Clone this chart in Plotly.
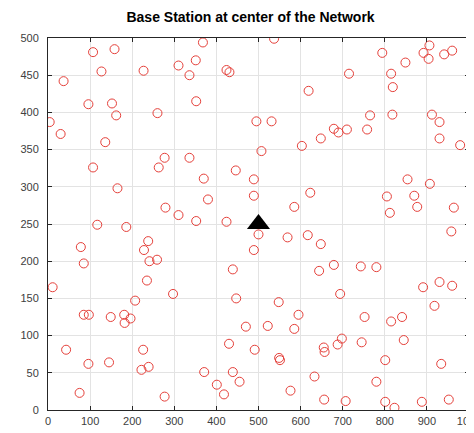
import plotly.graph_objects as go

# Sensor node positions
node_x = [107, 158, 368, 127, 227, 310, 336, 351, 424, 431,
          37, 96, 152, 162, 260, 352, 4, 30, 136, 277,
          263, 336, 446, 107, 370, 165, 380, 279, 310, 352,
          424, 117, 186, 537, 794, 849, 892, 906, 904, 941,
          960, 715, 815, 819, 619, 495, 531, 765, 818, 912,
          930, 679, 690, 710, 758, 648, 930, 603, 979, 507,
          489, 489, 623, 585, 854, 907, 805, 870, 877, 812,
          964, 958, 78, 85, 238, 228, 241, 259, 235, 439,
          11, 297, 207, 447, 85, 97, 149, 181, 196, 182,
          470, 43, 430, 226, 96, 145, 222, 239, 371, 439,
          455, 401, 75, 277, 418, 500, 489, 569, 617, 648,
          644, 679, 743, 780, 694, 548, 595, 585, 522, 752,
          815, 841, 891, 930, 960, 918, 698, 688, 745, 845,
          655, 657, 491, 549, 551, 801, 934, 633, 780, 576,
          656, 707, 801, 823, 888, 952]
node_y = [481, 485, 494, 455, 456, 463, 450, 470, 457, 454,
          442, 411, 412, 396, 399, 415, 387, 371, 360, 339,
          326, 339, 322, 326, 311, 298, 283, 272, 262, 254,
          253, 249, 246, 499, 480, 467, 480, 490, 472, 478,
          483, 452, 452, 434, 429, 388, 388, 396, 397, 397,
          387, 378, 373, 377, 377, 365, 365, 355, 356, 348,
          310, 288, 292, 273, 310, 304, 287, 288, 273, 265,
          272, 240, 219, 197, 227, 215, 200, 202, 174, 189,
          165, 156, 147, 150, 128, 128, 125, 128, 123, 117,
          112, 81, 89, 81, 62, 64, 54, 58, 51, 51,
          38, 34, 23, 18, 21, 236, 215, 232, 235, 223,
          187, 195, 193, 192, 156, 145, 128, 109, 113, 125,
          119, 125, 165, 172, 167, 140, 96, 88, 91, 94,
          84, 78, 81, 70, 67, 67, 62, 45, 38, 26,
          14, 12, 11, 3, 11, 14]

# Base station
bs_x = [500]
bs_y = [250]

title_text = "Base Station at center of the Network"
x_ticks = [0, 100, 200, 300, 400, 500, 600, 700, 800, 900, 1000]
y_ticks = [0, 50, 100, 150, 200, 250, 300, 350, 400, 450, 500]

fig = go.Figure()
fig.add_trace(go.Scatter(
    x=node_x, y=node_y, mode="markers",
    marker=dict(symbol="circle-open", size=9, color="#e5403a",
                line=dict(width=1, color="#e5403a")),
    showlegend=False, hoverinfo="x+y"))
fig.add_trace(go.Scatter(
    x=bs_x, y=bs_y, mode="markers",
    marker=dict(symbol="triangle-up", size=20, color="black"),
    showlegend=False))

axis_common = dict(
    showline=True, linecolor="#262626", linewidth=1, mirror="ticks",
    ticks="inside", ticklen=4, tickcolor="#262626",
    showgrid=True, gridcolor="#e3e3e3", gridwidth=1,
    zeroline=False, automargin=False,
    tickfont=dict(family="Liberation Sans, Arial, sans-serif", size=11, color="#404040"),
)

fig.update_xaxes(range=[0, 1000], tickvals=x_ticks, ticklabelstandoff=1, **axis_common)
fig.update_yaxes(range=[0, 500], tickvals=y_ticks, ticklabelstandoff=6, **axis_common)

fig.update_layout(
    width=474, height=433,
    margin=dict(l=40, r=13, t=30, b=31, autoexpand=False),
    paper_bgcolor="white", plot_bgcolor="white",
    title=dict(text="<b>" + title_text + "</b>", x=0.5117, xanchor="center",
               y=1 - 9 / 433, yanchor="middle", yref="container",
               font=dict(family="Liberation Sans, Arial, sans-serif", size=14, color="black")),
)

fig.write_html("out.html")
